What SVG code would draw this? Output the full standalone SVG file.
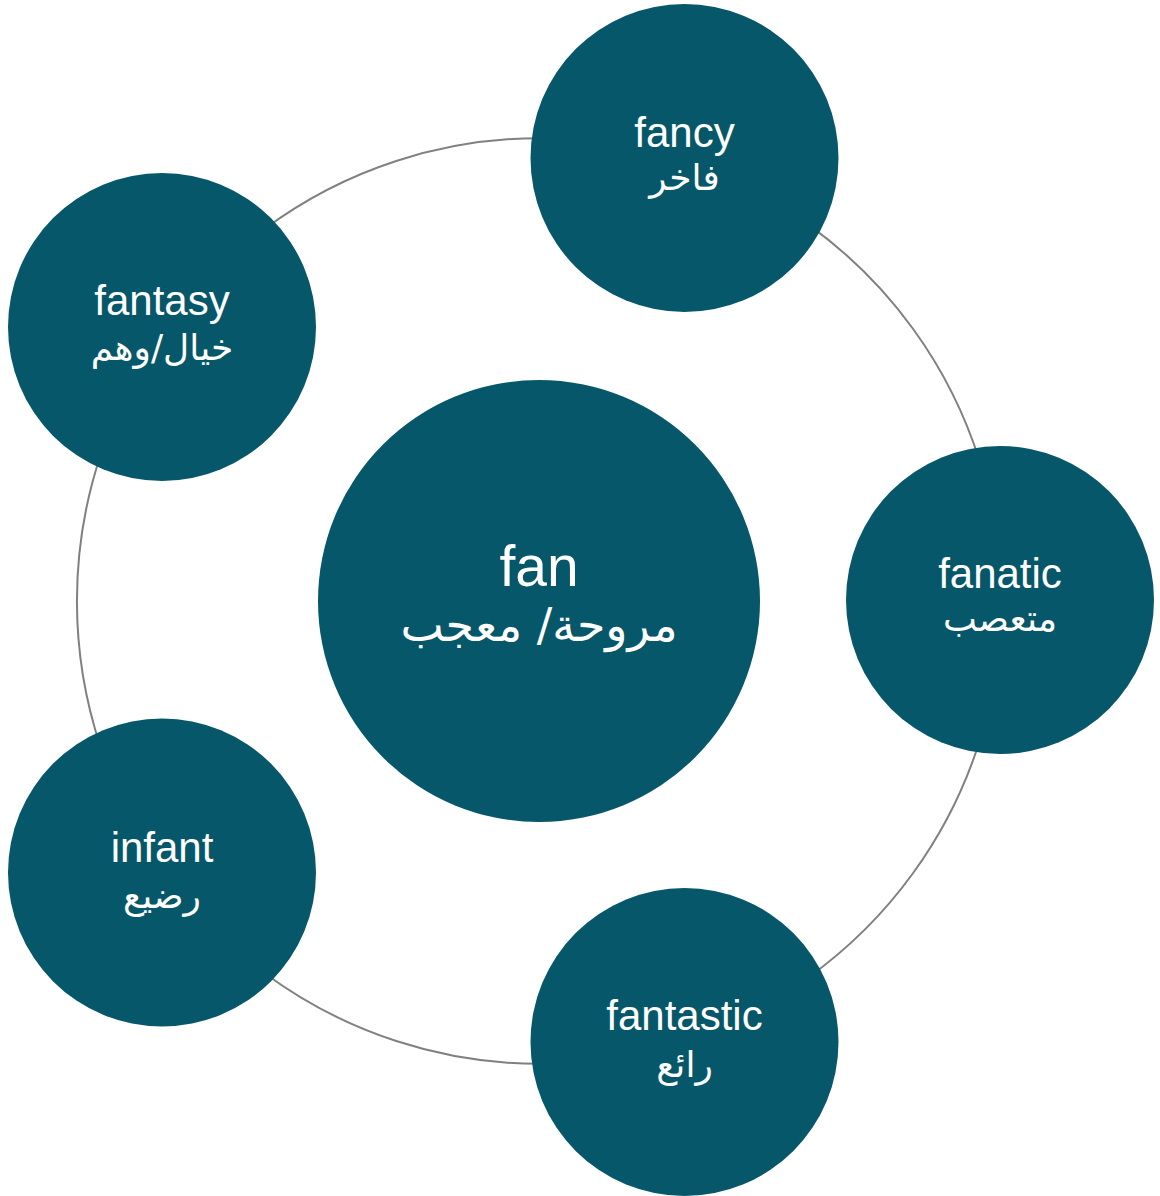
<svg xmlns="http://www.w3.org/2000/svg" width="1160" height="1196" viewBox="0 0 1160 1196">
<style>
.node{fill:#065769}
.ring{fill:none;stroke:#808080;stroke-width:2}
.en{font-family:"Liberation Sans",Arial,sans-serif;fill:#ffffff;text-anchor:middle}
.ar{font-family:"DejaVu Sans","Noto Sans",sans-serif;fill:#ffffff;text-anchor:middle}
</style>
<rect width="1160" height="1196" fill="#ffffff"/>
<g id="connectors">
<path class="ring" d="M 682.1 160.7 A 462 462 0 0 1 1001 601"/>
<path class="ring" d="M 1001 601 A 462 462 0 0 1 682.1 1041.3"/>
<path class="ring" d="M 682.1 1041.3 A 462 462 0 0 1 165.2 872.6"/>
<path class="ring" d="M 165.2 872.6 A 462 462 0 0 1 165.2 329.4"/>
<path class="ring" d="M 165.2 329.4 A 462 462 0 0 1 682.1 160.7"/>
</g>
<g id="node-fan">
<circle class="node" cx="539" cy="601" r="221"/>
<text class="en" x="539" y="586" font-size="57">fan</text>
<text class="ar" x="539" y="641" font-size="46" direction="rtl">مروحة/ معجب</text>
</g>
<g id="node-fancy">
<circle class="node" cx="684.5" cy="158" r="154"/>
<text class="en" x="684.5" y="147" font-size="42">fancy</text>
<text class="ar" x="684.5" y="190" font-size="36" direction="rtl">فاخر</text>
</g>
<g id="node-fanatic">
<circle class="node" cx="1000" cy="600" r="154"/>
<text class="en" x="1000" y="588" font-size="42">fanatic</text>
<text class="ar" x="1000" y="631" font-size="36" direction="rtl">متعصب</text>
</g>
<g id="node-fantastic">
<circle class="node" cx="684.5" cy="1042" r="154"/>
<text class="en" x="684.5" y="1030" font-size="42">fantastic</text>
<text class="ar" x="684.5" y="1077" font-size="36" direction="rtl">رائع</text>
</g>
<g id="node-infant">
<circle class="node" cx="162" cy="872.5" r="154"/>
<text class="en" x="162" y="862" font-size="42">infant</text>
<text class="ar" x="162" y="908" font-size="36" direction="rtl">رضيع</text>
</g>
<g id="node-fantasy">
<circle class="node" cx="162" cy="327" r="154"/>
<text class="en" x="162" y="315" font-size="42">fantasy</text>
<text class="ar" x="162" y="360" font-size="36" direction="rtl">خيال/وهم</text>
</g>
</svg>
